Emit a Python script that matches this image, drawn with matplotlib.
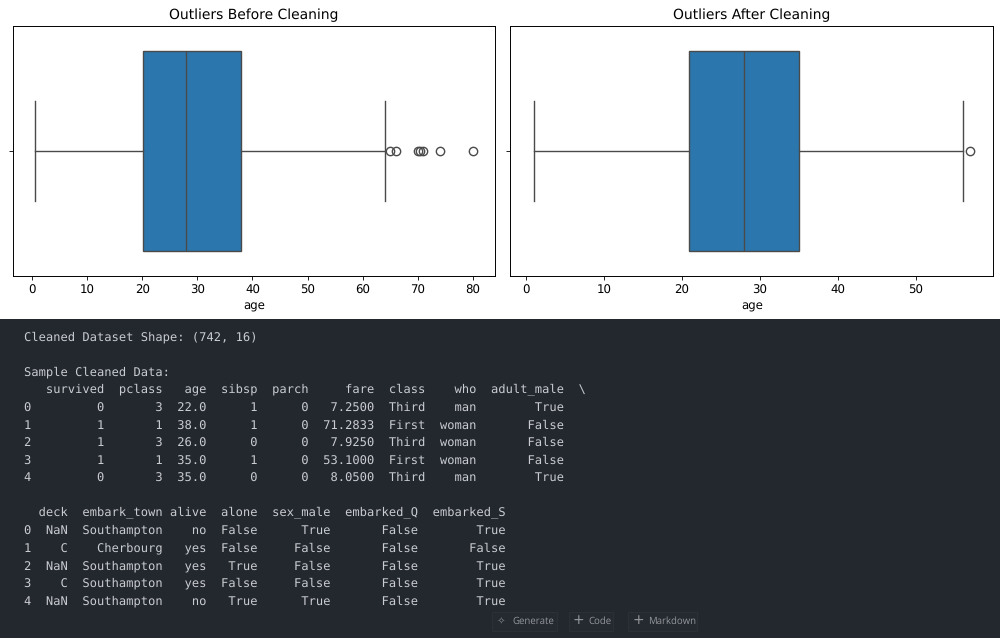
import matplotlib
matplotlib.use('Agg')
import matplotlib.pyplot as plt
from matplotlib.patches import Rectangle

plt.rcParams['text.hinting'] = 'no_hinting'

W, H = 1000, 638

# box stats
before_stats = dict(whislo=0.42, q1=20.1, med=28.0, q3=38.0, whishi=64.0,
                    fliers=[65, 66, 70, 70.5, 71, 74, 80])
after_stats = dict(whislo=1.0, q1=20.9, med=28.0, q3=35.0, whishi=56.0, fliers=[57])
before_ticks = [0, 10, 20, 30, 40, 50, 60, 70, 80]
after_ticks = [0, 10, 20, 30, 40, 50]

output_lines = [
    "Cleaned Dataset Shape: (742, 16)",
    "",
    "Sample Cleaned Data:",
    "   survived  pclass   age  sibsp  parch     fare  class    who  adult_male  \\",
    "0         0       3  22.0      1      0   7.2500  Third    man        True",
    "1         1       1  38.0      1      0  71.2833  First  woman       False",
    "2         1       3  26.0      0      0   7.9250  Third  woman       False",
    "3         1       1  35.0      1      0  53.1000  First  woman       False",
    "4         0       3  35.0      0      0   8.0500  Third    man        True",
    "",
    "  deck  embark_town alive  alone  sex_male  embarked_Q  embarked_S",
    "0  NaN  Southampton    no  False      True       False        True",
    "1    C    Cherbourg   yes  False     False       False       False",
    "2  NaN  Southampton   yes   True     False       False        True",
    "3    C  Southampton   yes  False     False       False        True",
    "4  NaN  Southampton    no   True      True       False        True",
]
buttons = ["Generate", "Code", "Markdown"]

BG = '#23272e'
TXT = '#c9ccd0'
BOX = '#2b76ad'
LINE = '#4a4a4a'


def px_rect(x0, y0, x1, y1):
    # pixels from the top left -> figure fraction [l, b, w, h]
    return [x0 / W, 1 - y1 / H, (x1 - x0) / W, (y1 - y0) / H]


def draw_box(ax, stats, ticks, xlim, title):
    ax.bxp([stats], orientation='horizontal', positions=[0], widths=0.8, patch_artist=True,
           boxprops=dict(facecolor=BOX, edgecolor=LINE, linewidth=1),
           medianprops=dict(color=LINE, linewidth=1),
           whiskerprops=dict(color=LINE, linewidth=1),
           capprops=dict(color=LINE, linewidth=1),
           flierprops=dict(marker='o', markerfacecolor='none', markeredgecolor=LINE,
                           markersize=6, markeredgewidth=1),
           capwidths=0.4)
    ax.set_xlim(*xlim)
    ax.set_ylim(-0.5, 0.5)
    ax.set_yticks([0])
    ax.set_yticklabels([''])
    ax.set_xticks(ticks)
    ax.tick_params(labelsize=8.5, length=3, width=0.7, pad=3, color='#222222')
    ax.set_xlabel('age', fontsize=8.5, labelpad=3)
    ax.set_title(title, fontsize=10, pad=5)
    for s in ax.spines.values():
        s.set_linewidth(0.7)


fig = plt.figure(figsize=(W / 100, H / 100), dpi=100, facecolor='white')

ax1 = fig.add_axes(px_rect(13, 26, 495, 276))
draw_box(ax1, before_stats, before_ticks, (-3.5, 84.05), 'Outliers Before Cleaning')
ax2 = fig.add_axes(px_rect(510.5, 26, 993, 276))
draw_box(ax2, after_stats, after_ticks, (-2.0, 59.9), 'Outliers After Cleaning')

# dark notebook output below the plots
panel = fig.add_axes(px_rect(0, 319, W, H))
panel.set_xlim(0, W)
panel.set_ylim(H, 319)
panel.axis('off')
panel.add_patch(Rectangle((0, 319), W, H - 319, facecolor=BG, edgecolor='none'))

for i, line in enumerate(output_lines):
    panel.text(24, 337 + i * 17.6, line, family='DejaVu Sans Mono', fontsize=8.72,
               color=TXT, va='center', ha='left')

button_spans = [(492, 557, 512), (569, 613, 588), (628, 697, 648)]
for label, (x0, x1, tx) in zip(buttons, button_spans):
    panel.add_patch(Rectangle((x0, 612), x1 - x0, 19, facecolor='#252930',
                              edgecolor='#2c3037', linewidth=0.7))
    panel.text(tx, 621.5, label, family='Open Sans', fontsize=6.9, color='#94979b',
               va='center', ha='left')
    if label == 'Generate':
        panel.text(tx - 11, 621, '✧', family='DejaVu Sans', fontsize=7.5, color='#94979b',
                   va='center', ha='center')
    else:
        panel.text(tx - 10, 620.5, '+', family='DejaVu Sans', fontsize=10, color='#94979b',
                   va='center', ha='center')

fig.savefig('out.png', dpi=100, facecolor='white')
